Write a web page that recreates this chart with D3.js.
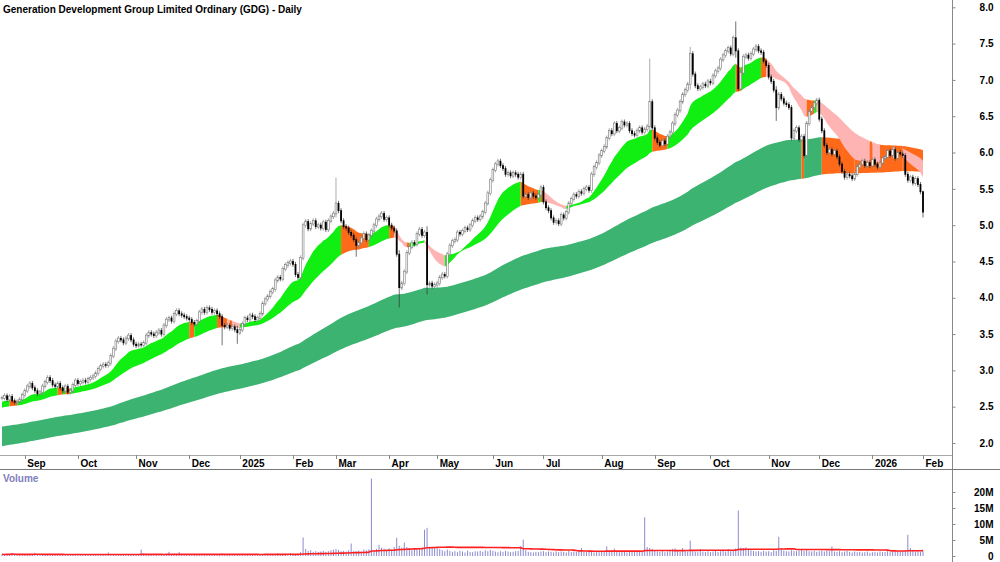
<!DOCTYPE html>
<html>
<head>
<meta charset="utf-8">
<script src="https://cdn.jsdelivr.net/npm/d3@7"></script>
<style>
  body { margin: 0; background: #fff; }
  svg { display: block; font-family: "Liberation Sans", Arial, sans-serif; }
  .lbl { font-size: 10px; font-weight: bold; fill: #000; }
</style>
</head>
<body>
<svg width="1000" height="562"></svg>
<script>
// daily closes (20 Aug 2024 .. 2 Feb 2026)
const closes = [
  2.62,2.65,2.60,2.64,2.58,2.56,2.57,2.60,2.66,2.72,
  2.78,2.82,2.76,2.72,2.68,2.70,2.78,2.84,2.90,2.86,
  2.80,2.78,2.82,2.76,2.72,2.78,2.70,2.72,2.80,2.86,
  2.82,2.84,2.86,2.84,2.88,2.90,2.92,2.96,3.02,3.06,
  3.08,3.07,3.10,3.20,3.30,3.40,3.44,3.42,3.38,3.44,
  3.48,3.42,3.36,3.34,3.36,3.35,3.38,3.48,3.52,3.50,
  3.48,3.52,3.55,3.50,3.62,3.70,3.72,3.68,3.78,3.82,
  3.78,3.76,3.74,3.72,3.70,3.66,3.64,3.68,3.80,3.84,
  3.80,3.86,3.84,3.80,3.82,3.78,3.74,3.62,3.60,3.62,
  3.58,3.60,3.56,3.52,3.56,3.64,3.72,3.70,3.76,3.74,
  3.70,3.72,3.78,3.92,3.98,4.02,4.08,4.12,4.24,4.28,
  4.26,4.40,4.45,4.48,4.50,4.46,4.32,4.28,4.55,5.00,
  5.05,4.95,5.02,5.06,4.98,5.00,4.96,5.04,4.94,5.06,
  5.12,5.16,5.30,5.20,5.06,4.98,4.96,4.90,4.86,4.80,
  4.72,4.76,4.82,4.88,4.80,4.86,4.92,5.00,5.08,5.12,
  5.16,5.08,5.10,5.00,4.96,4.92,4.60,4.14,4.20,4.36,
  4.62,4.70,4.76,4.74,4.88,4.94,4.86,4.90,4.18,4.20,
  4.16,4.18,4.20,4.28,4.32,4.30,4.60,4.72,4.78,4.80,
  4.90,4.88,4.92,4.96,4.94,5.00,5.06,5.10,5.08,5.12,
  5.18,5.30,5.44,5.62,5.76,5.84,5.88,5.82,5.78,5.70,
  5.72,5.68,5.72,5.70,5.66,5.70,5.40,5.42,5.38,5.44,
  5.40,5.38,5.42,5.52,5.32,5.24,5.20,5.10,5.04,5.06,
  5.02,5.14,5.10,5.18,5.30,5.36,5.42,5.40,5.46,5.44,
  5.50,5.52,5.48,5.70,5.80,5.86,5.96,6.02,6.08,6.20,
  6.30,6.26,6.40,6.30,6.34,6.42,6.38,6.40,6.30,6.26,
  6.24,6.30,6.34,6.28,6.32,6.36,6.70,6.34,6.20,6.14,
  6.10,6.16,6.12,6.22,6.28,6.40,6.52,6.58,6.70,6.80,
  6.86,6.94,7.36,7.08,6.92,6.88,6.90,6.94,6.92,6.98,
  6.96,7.06,7.12,7.16,7.28,7.34,7.40,7.44,7.36,7.58,
  7.40,6.88,7.10,7.32,7.34,7.30,7.36,7.42,7.46,7.40,
  7.38,7.26,7.20,7.04,6.98,6.86,6.62,6.80,6.74,6.68,
  6.66,6.62,6.20,6.30,6.34,6.18,6.22,5.96,6.40,6.56,
  6.62,6.68,6.72,6.46,6.30,6.10,6.00,6.04,5.98,6.02,
  5.94,5.84,5.74,5.66,5.70,5.68,5.64,5.70,5.80,5.84,
  5.88,5.82,5.86,5.82,5.90,5.84,5.80,5.86,5.92,5.94,
  6.02,5.96,6.04,5.92,6.00,5.98,5.96,5.70,5.62,5.66,
  5.58,5.64,5.56,5.46,5.18
];

// long wicks: [bar, high, low]
const wicks = [
  [87, 3.74, 3.38], [93, 3.58, 3.40], [132, 5.62, 5.14], [140, 4.80, 4.60],
  [157, 4.62, 3.90], [168, 4.95, 4.08], [256, 7.26, 6.30], [272, 7.42, 6.90],
  [290, 7.77, 7.34], [306, 6.88, 6.47], [364, 5.44, 5.14]
];

// daily volume, millions
const volumes = [
  0.5,0.4,0.6,0.5,0.9,0.4,0.3,0.5,0.4,0.6,
  0.5,0.4,0.6,1.0,0.5,0.4,0.3,0.5,0.6,0.4,
  0.4,0.5,0.3,0.4,0.5,0.4,0.3,0.5,0.4,0.4,
  0.3,0.4,0.5,0.4,0.3,0.4,0.5,0.4,0.6,0.5,
  0.4,0.6,1.1,0.5,0.6,0.4,0.5,0.4,0.3,0.5,
  0.4,0.5,0.3,0.4,0.6,2.0,0.8,0.5,0.4,0.3,
  0.4,0.5,0.4,0.3,0.5,0.6,1.3,0.5,0.4,0.6,
  1.2,0.5,0.4,0.3,0.4,0.5,0.3,0.4,0.5,0.4,
  0.3,0.4,0.5,0.3,0.4,0.3,0.5,0.8,0.4,0.3,
  0.4,0.3,0.5,0.4,0.6,0.4,0.3,0.4,0.5,0.4,
  0.3,0.4,0.5,0.6,0.7,0.5,0.6,0.4,0.5,0.9,
  0.6,0.8,0.7,0.6,0.9,0.7,0.6,0.8,1.2,5.8,
  2.2,1.6,1.8,1.3,1.5,1.2,1.4,1.6,1.3,1.5,
  1.8,2.0,2.2,1.9,1.5,1.6,1.4,1.8,3.9,1.6,
  1.5,1.7,1.4,2.0,1.8,2.1,24.2,1.8,2.2,3.5,
  2.6,2.3,1.9,2.4,2.0,2.8,5.7,3.2,2.6,4.2,
  2.8,2.4,2.0,2.2,1.9,2.3,2.6,8.2,8.8,2.9,
  2.6,2.7,2.4,2.2,1.8,1.5,2.0,1.6,1.3,1.5,
  1.2,1.6,1.4,1.1,1.7,1.3,1.2,1.5,1.4,1.6,
  1.3,1.8,1.5,1.9,1.6,1.4,1.2,1.5,1.3,1.6,
  1.4,1.2,1.3,1.5,1.6,3.0,5.1,1.8,1.3,1.2,
  1.1,1.3,1.2,1.4,1.5,1.2,1.4,1.3,1.1,1.5,
  1.2,1.4,1.3,1.1,1.6,1.2,1.4,1.3,1.5,2.5,
  1.3,1.2,1.4,1.5,1.1,1.3,1.2,1.6,1.4,3.0,
  1.5,1.3,2.3,1.4,1.2,1.3,1.5,1.1,1.4,1.3,
  1.2,1.4,1.5,1.3,12.1,2.8,2.5,2.2,1.6,1.4,
  1.3,1.5,1.2,1.4,1.6,2.2,2.4,1.5,1.3,2.5,
  1.6,1.4,4.8,1.5,1.3,1.2,2.2,1.4,1.3,1.5,
  1.2,1.4,1.6,1.3,1.5,2.0,1.4,2.2,1.5,1.8,
  2.4,14.2,2.6,2.5,2.7,2.3,1.8,1.6,1.4,1.5,
  1.3,1.6,1.4,1.5,1.2,1.8,1.6,6.0,2.5,1.7,
  1.5,1.4,1.8,1.6,1.5,1.7,1.9,1.6,1.8,1.5,
  1.4,1.6,1.3,1.5,1.7,1.4,1.6,1.5,3.0,1.4,
  1.3,1.5,1.2,1.4,1.6,1.3,1.1,1.4,1.2,1.3,
  1.1,1.2,1.4,1.0,1.2,1.3,1.1,1.4,1.2,1.3,
  1.5,1.2,1.4,1.3,1.6,1.4,1.5,1.7,6.6,2.5,
  1.6,1.4,1.5,1.3,1.6
];

// ASX non-trading days in the range (incl. a Feb 2025 halt)
const holidays = [
  '2024-12-25','2024-12-26','2025-01-01','2025-01-27',
  '2025-02-04','2025-02-05','2025-02-06',
  '2025-04-18','2025-04-21','2025-04-25','2025-06-09',
  '2025-12-25','2025-12-26','2026-01-01','2026-01-26'
];
const firstDay = '2024-08-20';

// moving average ribbons
const shortPeriods = [15, 20, 25, 30, 35, 40];
const shortSeed = [2.56, 2.54, 2.53, 2.51, 2.50, 2.48];
const longPeriods = [140, 155, 170, 185, 200, 220];
const longSeed = [2.22, 2.17, 2.12, 2.07, 2.01, 1.95];

const priceTicks = [2.0, 2.5, 3.0, 3.5, 4.0, 4.5, 5.0, 5.5, 6.0, 6.5, 7.0, 7.5, 8.0];
const volTicks = [0, 5, 10, 15, 20];
const monthNames = ['Jan','Feb','Mar','Apr','May','Jun','Jul','Aug','Sep','Oct','Nov','Dec'];

const n = closes.length;
const svg = d3.select('svg');

// trading calendar
const fmt = d3.utcFormat('%Y-%m-%d');
const dates = [];
for (let d = new Date(firstDay + 'T00:00:00Z'); dates.length < n; d = d3.utcDay.offset(d, 1)) {
  const wd = d.getUTCDay();
  if (wd === 0 || wd === 6 || holidays.includes(fmt(d))) continue;
  dates.push(d);
}

const x = d3.scaleLinear().domain([0, n - 1]).range([2, 923]);
const y = d3.scaleLinear().domain([2, 8]).range([443, 7.3]);
const yv = d3.scaleLinear().domain([0, 20]).range([556, 492]);

function ema(vals, p, seed) {
  const a = 2 / (p + 1);
  let e = seed;
  return vals.map(v => (e = e + a * (v - e)));
}

// state: 0 both ends rising, 1 mixed, 2 both falling
function ribbon(periods, seeds) {
  const lines = periods.map((p, k) => ema(closes, p, seeds[k]));
  const lo = d3.range(n).map(i => d3.min(lines, l => l[i]));
  const hi = d3.range(n).map(i => d3.max(lines, l => l[i]));
  const fast = lines[0], slow = lines[lines.length - 1];
  const state = d3.range(n).map(i => {
    if (i === 0) return 0;
    const fUp = fast[i] >= fast[i - 1], sUp = slow[i] >= slow[i - 1];
    return fUp && sUp ? 0 : (!fUp && !sUp ? 2 : 1);
  });
  return { lo, hi, state };
}

function drawRibbon(g, r, colors) {
  const area = d3.area()
    .x(i => x(i))
    .y0(i => y(r.lo[i]))
    .y1(i => y(r.hi[i]));
  let start = 0;
  for (let i = 1; i <= n; i++) {
    if (i === n || r.state[i] !== r.state[start]) {
      g.append('path')
        .datum(d3.range(Math.max(0, start - 1), i))
        .attr('fill', colors[r.state[start]])
        .attr('d', area);
      start = i;
    }
  }
}

const longR = ribbon(longPeriods, longSeed);
const shortR = ribbon(shortPeriods, shortSeed);

const plot = svg.append('g');
drawRibbon(plot.append('g'), longR, ['#3cb371', '#ff6a1a', '#ff6a1a']);
drawRibbon(plot.append('g'), shortR, ['#11ee11', '#ff6a1a', '#ffb4b4']);

// candles
const bars = d3.range(n).map(i => {
  const o = i ? closes[i - 1] : closes[i], c = closes[i];
  const w = wicks.find(d => d[0] === i);
  return { i, o, c, up: c >= o, hi: w ? w[1] : Math.max(o, c), lo: w ? w[2] : Math.min(o, c) };
});

const cg = plot.append('g');
cg.selectAll('line').data(bars).join('line')
  .attr('x1', d => x(d.i)).attr('x2', d => x(d.i))
  .attr('y1', d => y(d.hi) - 2.5).attr('y2', d => y(d.lo) + 2.5)
  .attr('stroke', d => d.up ? '#888' : '#333').attr('stroke-width', 0.7);
cg.selectAll('rect').data(bars).join('rect')
  .attr('x', d => x(d.i) - 0.9)
  .attr('width', 1.8)
  .attr('y', d => y(Math.max(d.o, d.c)) - 0.4)
  .attr('height', d => Math.abs(y(d.o) - y(d.c)) + 0.8)
  .attr('fill', d => d.up ? '#fff' : '#000')
  .attr('stroke', d => d.up ? '#777' : 'none')
  .attr('stroke-width', 0.6);

// title
svg.append('text').attr('class', 'lbl')
  .attr('x', 3).attr('y', 13)
  .text('Generation Development Group Limited Ordinary (GDG) - Daily');

// frame lines
svg.append('line').attr('x1', 952.5).attr('x2', 952.5).attr('y1', 0).attr('y2', 562)
  .attr('stroke', '#888');
svg.append('line').attr('x1', 0).attr('x2', 952).attr('y1', 455.5).attr('y2', 455.5)
  .attr('stroke', '#aaa');
svg.append('line').attr('x1', 0).attr('x2', 1000).attr('y1', 469.5).attr('y2', 469.5)
  .attr('stroke', '#777');

// price axis
const pAxis = svg.append('g').attr('transform', 'translate(952.5,0)')
  .call(d3.axisRight(y).tickValues(priceTicks).tickSize(3).tickFormat(d3.format('.1f')));
pAxis.select('.domain').remove();
pAxis.selectAll('line').attr('stroke', '#888');
pAxis.selectAll('text').attr('class', 'lbl').attr('x', 41).attr('text-anchor', 'end');

// volume axis
const vAxis = svg.append('g').attr('transform', 'translate(952.5,0)')
  .call(d3.axisRight(yv).tickValues(volTicks).tickSize(3).tickFormat(d => d ? d + 'M' : '0'));
vAxis.select('.domain').remove();
vAxis.selectAll('line').attr('stroke', '#888');
vAxis.selectAll('text').attr('class', 'lbl').attr('x', 41).attr('text-anchor', 'end');

// date axis: first trading day of each month
const monthStarts = d3.range(1, n).filter(i => dates[i].getUTCMonth() !== dates[i - 1].getUTCMonth());
const dg = svg.append('g');
dg.selectAll('line').data(monthStarts).join('line')
  .attr('x1', i => Math.round(x(i)) + 0.5).attr('x2', i => Math.round(x(i)) + 0.5)
  .attr('y1', 455).attr('y2', 459).attr('stroke', '#888');
dg.selectAll('text').data(monthStarts).join('text').attr('class', 'lbl')
  .attr('x', i => x(i) + 2.5).attr('y', 467)
  .text(i => dates[i].getUTCMonth() === 0 ? dates[i].getUTCFullYear() : monthNames[dates[i].getUTCMonth()]);

// volume panel
svg.append('text').attr('class', 'lbl').attr('x', 3).attr('y', 482)
  .style('fill', '#8080c0').text('Volume');
svg.append('g').selectAll('line').data(volumes).join('line')
  .attr('x1', (d, i) => x(i)).attr('x2', (d, i) => x(i))
  .attr('y1', yv(0)).attr('y2', d => yv(d))
  .attr('stroke', '#8a8ad0').attr('stroke-width', 1);
const volAvg = volumes.map((d, i) => d3.mean(volumes.slice(Math.max(0, i - 59), i + 1)));
svg.append('path').datum(volAvg)
  .attr('fill', 'none').attr('stroke', '#ff2020').attr('stroke-width', 1.6)
  .attr('d', d3.line().x((d, i) => x(i)).y(d => yv(d)));
</script>
</body>
</html>
